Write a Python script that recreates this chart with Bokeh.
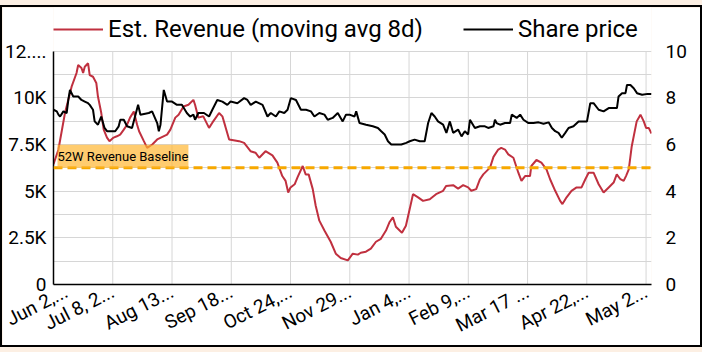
from bokeh.plotting import figure
from bokeh.models import (Range1d, LinearAxis, FixedTicker, Legend, LegendItem,
                          Span, Label)
from bokeh.layouts import column
from bokeh.embed import file_html
from bokeh.resources import INLINE

# ---- data (x = days since Jun 2) ----
tick_day = [0, 36, 72, 108, 144, 180, 216, 252, 288, 324, 360]
tick_label = ["Jun 2,...", "Jul 8, 2...", "Aug 13...", "Sep 18...", "Oct 24,...",
              "Nov 29...", "Jan 4,...", "Feb 9,...", "Mar 17 ...", "Apr 22,...",
              "May 2..."]

rev_day = [0, 3, 7, 11, 14, 15, 17, 18, 19, 21,
           22, 24, 26, 27, 29, 30.5, 32.5, 34, 36.5, 38.5,
           40.5, 42.7, 44.7, 46.5, 48.8, 50.8, 52, 54.9, 56.9, 60,
           63, 69, 71, 74, 76, 79, 82, 85, 86, 88,
           91, 94.5, 96.5, 100.6, 102.6, 104.4, 106.7, 112.8, 115.8, 119.7,
           122.7, 125, 128.8, 133, 136, 139, 141, 142.6, 144, 146.5,
           148.3, 151.4, 153.2, 155, 157.5, 159.3, 161.5, 164.6, 168.4, 171.5,
           174.5, 178.8, 181.8, 184.9, 186.7, 189.8, 192.8, 195.9, 198.9, 202,
           204.2, 206.2, 208, 211.7, 214.1, 216.4, 218.4, 221.5, 224.5, 228.6,
           232.4, 236.7, 238.5, 242.8, 245.8, 248.9, 251.9, 253.8, 256.8, 259.1,
           261.1, 265.2, 267.3, 270.2, 272, 274.3, 276.3, 279.4, 282.4, 284.3,
           286.5, 289.5, 290.3, 293.4, 296.4, 299.5, 301.7, 304.8, 307.8, 309.2,
           311.7, 314.7, 317.8, 320.8, 323.1, 325.1, 328.1, 331.2, 334.2, 337.3,
           340.3, 342.2, 344.4, 346.4, 347.8, 349.5, 351.3, 354.3, 356.6, 358.6,
           360, 361.6, 363.3]
rev_value = [6440, 7230, 9200, 10600, 11330, 11760, 11600, 11330, 11670, 11850,
             11220, 11130, 10800, 10070, 9200, 8300, 7870, 7680, 7870, 7940,
             8030, 8300, 8560, 8940, 9270, 8560, 8210, 7680, 7320, 7500,
             7770, 8030, 8300, 8940, 9100, 9540, 9630, 9890, 9630, 8940,
             9010, 8390, 8670, 9190, 9010, 8470, 7770, 7680, 7590, 7140,
             7060, 6790, 7140, 6920, 6530, 5810, 5550, 4930, 5200, 5370,
             5750, 6350, 5900, 5900, 5110, 4220, 3420, 2890, 2290, 1650,
             1420, 1290, 1650, 1600, 1700, 1760, 1920, 2290, 2450, 2890,
             3350, 3600, 3090, 2770, 3150, 4040, 4840, 4670, 4480, 4570,
             4840, 5020, 5280, 5320, 5140, 5320, 5200, 5020, 5110, 5640,
             5900, 6260, 6840, 7230, 7320, 7230, 6970, 6790, 5990, 5550,
             5810, 5810, 6350, 6670, 6530, 6170, 5640, 5020, 4480, 4310,
             4670, 5020, 5200, 5200, 5640, 5990, 5990, 5370, 4930, 5200,
             5460, 5900, 5640, 5550, 5810, 6170, 7410, 8740, 9100, 8740,
             8390, 8390, 8090]

price_day = [0, 2, 3, 4, 6, 8, 9, 10, 12, 15,
             17, 19, 21, 22, 24, 25, 27, 29, 31, 32.5,
             37.5, 39.6, 40.6, 42.7, 44.7, 47.7, 51.4, 52.8, 57.9, 59.9,
             63, 64, 65, 67, 69, 72, 75, 78, 81, 83,
             85, 86, 88, 91.4, 94.5, 96.5, 99.5, 102.6, 105.6, 107.6,
             111.7, 115.8, 117.8, 119.8, 122.9, 127, 130, 132, 135.1, 137.2,
             140.2, 142.2, 144.2, 147.3, 150.3, 153.4, 156.4, 158.5, 161.5, 164.6,
             166.6, 169.6, 172.7, 175.7, 177.7, 179.8, 182.9, 183.9, 185.9, 189.9,
             194, 197.1, 199.1, 201.2, 203.2, 205.2, 211.3, 214.3, 216.4, 219.4,
             222.5, 225.5, 227.6, 229.6, 231.6, 233.6, 236.7, 238.7, 240.8, 242.8,
             245.8, 247.9, 249.9, 251.9, 253, 256, 259.1, 262.1, 264.1, 267.3,
             268.2, 269.2, 271.3, 274.3, 277.4, 278.4, 281.4, 283.5, 285.5, 288.6,
             291.6, 294.7, 297.7, 300.8, 302.8, 304.8, 306.8, 308.8, 310.9, 312.9,
             315.9, 319, 324.1, 326.1, 328.1, 331.2, 334.2, 337.3, 342.3, 343.3,
             345.4, 347.5, 348.4, 350.5, 352.5, 354.5, 357.6, 361, 363.3]
price_value = [7.49, 7.42, 7.28, 7.20, 7.42, 7.35, 7.91, 8.34, 8.06, 8.06,
               7.91, 7.84, 7.77, 7.70, 7.49, 6.99, 6.85, 7.20, 6.71, 6.57,
               6.57, 6.78, 7.06, 7.06, 6.78, 6.71, 7.70, 7.28, 7.35, 7.42,
               6.92, 6.57, 6.85, 8.34, 7.84, 7.84, 7.70, 7.70, 7.35, 7.20,
               7.28, 7.06, 7.35, 7.35, 7.20, 7.49, 7.91, 7.84, 7.70, 7.84,
               7.77, 7.99, 7.91, 7.70, 7.84, 7.70, 7.20, 7.35, 7.20, 7.42,
               7.35, 7.49, 7.99, 7.91, 7.49, 7.49, 7.42, 7.20, 7.35, 7.28,
               7.06, 7.14, 7.35, 6.99, 7.28, 7.28, 7.20, 7.42, 6.92, 6.85,
               6.78, 6.71, 6.57, 6.43, 6.14, 6.00, 6.00, 6.07, 6.14, 6.21,
               6.14, 6.14, 6.92, 7.35, 7.20, 6.99, 6.85, 6.50, 6.99, 6.50,
               6.64, 6.35, 6.57, 6.43, 7.06, 6.71, 6.78, 6.78, 6.71, 6.78,
               7.06, 6.92, 6.85, 6.92, 6.92, 7.28, 7.14, 7.28, 7.06, 6.92,
               6.92, 6.95, 6.89, 6.95, 6.71, 6.57, 6.50, 6.29, 6.50, 6.71,
               6.78, 6.99, 6.99, 7.77, 7.77, 7.49, 7.42, 7.56, 7.56, 8.06,
               8.20, 8.20, 8.55, 8.55, 8.41, 8.20, 8.13, 8.17, 8.16]

left_ticks = [0, 2500, 5000, 7500, 10000, 12500]
left_labels = ["0", "2.5K", "5K", "7.5K", "10K", "12...."]
left_minor = [1250, 3750, 6250, 8750, 11250]
left_max = 12500
right_ticks = [0, 2, 4, 6, 8, 10]
right_max = 10
baseline_value = 6250
baseline_text = "52W Revenue Baseline"
rev_name = "Est. Revenue (moving avg 8d)"
price_name = "Share price"

FONT = "Roboto"
RED = "#c0303f"
ORANGE = "#f7a800"
GRID = "#d6d6d6"
PEACH = "#fcefe3"

# layout in canvas pixels (canvas 698 x 338 inside the bordered card)
PLOT_H = 235          # height of the value area (0 .. left_max)
BOTTOM = 59           # space below the value area
HEAD = 338 - BOTTOM - PLOT_H   # legend strip above the value area
scale_top = (PLOT_H + HEAD) / PLOT_H

p = figure(width=702, height=342, x_range=Range1d(0, rev_day[-1]),
           y_range=Range1d(0, left_max * scale_top),
           output_backend="svg", toolbar_location=None,
           min_border_left=50, min_border_right=53, min_border_top=0,
           min_border_bottom=BOTTOM, background_fill_color="white",
           border_fill_color="white", outline_line_color=None,
           styles={"border": "2px solid black", "margin-top": "5px"})
p.extra_y_ranges = {"price": Range1d(0, right_max * scale_top)}

# x axis
xa = p.xaxis[0]
xa.ticker = FixedTicker(ticks=tick_day)
xa.major_label_overrides = {d: l for d, l in zip(tick_day, tick_label)}
xa.major_label_orientation = 0.47
xa.major_label_text_font = FONT
xa.major_label_text_font_size = "19px"
xa.major_label_text_color = "black"
xa.major_label_standoff = 6
xa.axis_line_color = "black"
xa.axis_line_width = 1.5
xa.major_tick_line_color = None
xa.minor_tick_line_color = None
xa.major_tick_out = 0
xa.major_tick_in = 0

# left axis
ya = p.yaxis[0]
yticker = FixedTicker(ticks=left_ticks, minor_ticks=left_minor)
ya.ticker = yticker
ya.bounds = (0, left_max)
ya.major_label_overrides = {t: l for t, l in zip(left_ticks, left_labels)}
ya.major_label_text_font = FONT
ya.major_label_text_font_size = "19px"
ya.major_label_text_color = "black"
ya.major_label_standoff = 3
ya.axis_line_color = "black"
ya.axis_line_width = 1.5
ya.major_tick_line_color = None
ya.minor_tick_line_color = None
ya.major_tick_out = 0
ya.major_tick_in = 0

# right axis
ra = LinearAxis(y_range_name="price", ticker=FixedTicker(ticks=right_ticks),
                bounds=(0, right_max))
ra.major_label_text_font = FONT
ra.major_label_text_font_size = "19px"
ra.major_label_text_color = "black"
ra.major_label_standoff = 14
ra.axis_line_color = None
ra.major_tick_line_color = None
ra.minor_tick_line_color = None
ra.major_tick_out = 0
ra.major_tick_in = 0
p.add_layout(ra, "right")

# grids: horizontal from the left ticker, vertical at the date ticks (value area only)
p.xgrid.visible = False
p.ygrid.ticker = yticker
p.ygrid.grid_line_color = GRID
p.ygrid.minor_grid_line_color = GRID
p.segment(x0=tick_day, y0=0, x1=tick_day, y1=left_max, line_color=GRID,
          line_width=1, level="underlay")

r1 = p.line(rev_day, rev_value, line_color=RED, line_width=2)
r2 = p.line(price_day, price_value, y_range_name="price", line_color="black",
            line_width=2)

p.add_layout(Span(location=baseline_value, dimension="width", line_color=ORANGE,
                  line_width=3, line_dash="9 5"))
p.add_layout(Label(x=0, y=baseline_value, text=baseline_text, x_offset=4, y_offset=0,
                   text_font=FONT, text_font_size="13px", text_color="black",
                   text_baseline="bottom", background_fill_color="#ffb732",
                   background_fill_alpha=0.7, padding=(0, 4)))

legend = Legend(items=[LegendItem(label=rev_name, renderers=[r1]),
                       LegendItem(label=price_name, renderers=[r2])],
                location=(0, PLOT_H + 6), orientation="horizontal",
                background_fill_alpha=0, border_line_color=None, padding=0,
                margin=0, spacing=40, glyph_width=50, label_standoff=5,
                label_text_font=FONT, label_text_font_size="24px",
                label_text_color="black")
p.add_layout(legend)

root = column(p, width=702, height=352, styles={"background-color": PEACH})
open("out.html", "w").write(file_html(root, INLINE))
